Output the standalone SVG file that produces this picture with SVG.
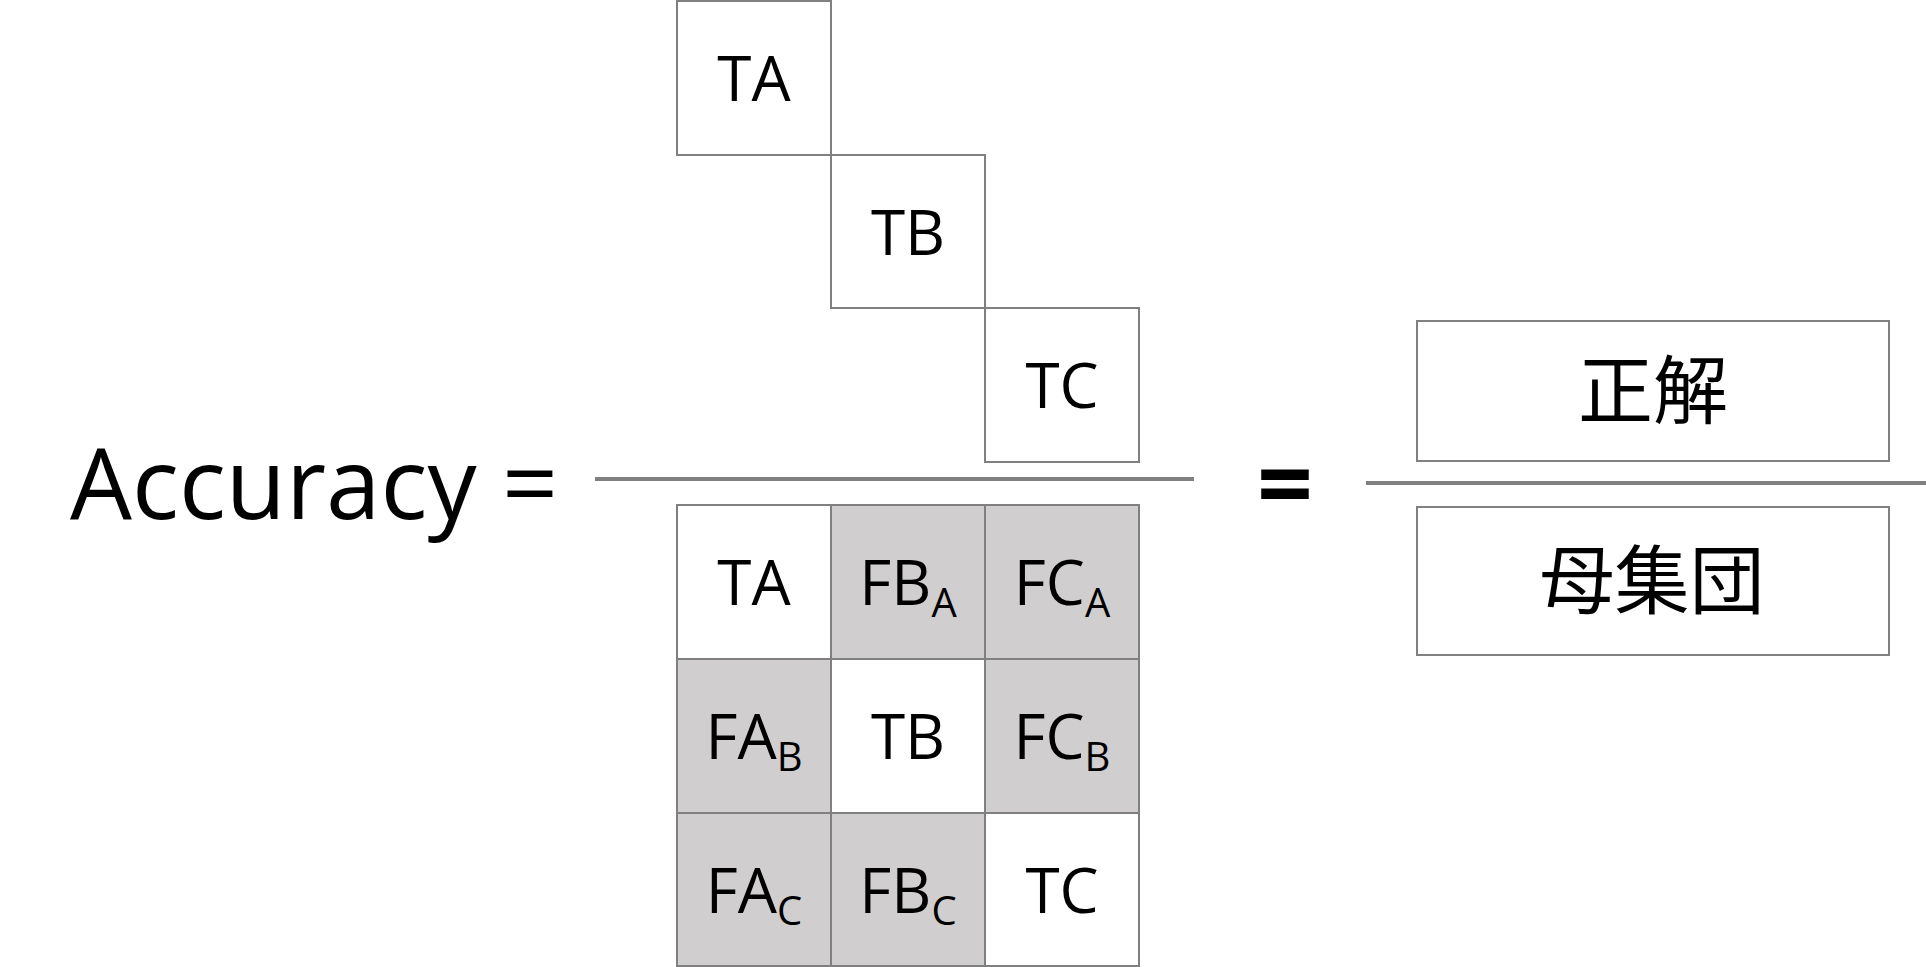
<svg xmlns="http://www.w3.org/2000/svg" width="1926" height="967" viewBox="0 0 1926 967">
<style>
.cell{fill:#ffffff;stroke:#808080;stroke-width:2}
.g{fill:#d0cece}
.t{font-family:"Open Sans","Noto Sans",sans-serif;font-size:62px;fill:#000;text-anchor:middle}
.sub{font-size:40px}
.big{font-family:"Open Sans","Noto Sans",sans-serif;font-size:98px;fill:#000}
.jp{font-family:"Noto Sans CJK JP","Noto Sans",sans-serif;font-size:75px;fill:#000;text-anchor:middle}
.div{stroke:#808080;stroke-width:4;fill:none}
</style>
<rect width="1926" height="967" fill="#ffffff"/>
<g id="label-accuracy"><text class="big" x="70" y="519">Accuracy =</text></g>
<g id="numerator">
<g id="num-TA"><rect class="cell" x="677" y="1" width="154" height="154"/><text class="t" x="754" y="101">TA</text></g>
<g id="num-TB"><rect class="cell" x="831" y="155" width="154" height="153"/><text class="t" x="908" y="255">TB</text></g>
<g id="num-TC"><rect class="cell" x="985" y="308" width="154" height="154"/><text class="t" x="1062" y="408">TC</text></g>
</g>
<g id="connectors">
<line class="div" x1="595" y1="479" x2="1194" y2="479"/>
<line class="div" x1="1366" y1="483" x2="1926" y2="483"/>
</g>
<g id="denominator">
<g id="den-TA"><rect class="cell" x="677" y="505" width="154" height="154"/><text class="t" x="754" y="605">TA</text></g>
<g id="den-FBA"><rect class="cell g" x="831" y="505" width="154" height="154"/><text class="t" x="908" y="605">FB<tspan class="sub" dy="12">A</tspan></text></g>
<g id="den-FCA"><rect class="cell g" x="985" y="505" width="154" height="154"/><text class="t" x="1062" y="605">FC<tspan class="sub" dy="12">A</tspan></text></g>
<g id="den-FAB"><rect class="cell g" x="677" y="659" width="154" height="154"/><text class="t" x="754" y="759">FA<tspan class="sub" dy="12">B</tspan></text></g>
<g id="den-TB"><rect class="cell" x="831" y="659" width="154" height="154"/><text class="t" x="908" y="759">TB</text></g>
<g id="den-FCB"><rect class="cell g" x="985" y="659" width="154" height="154"/><text class="t" x="1062" y="759">FC<tspan class="sub" dy="12">B</tspan></text></g>
<g id="den-FAC"><rect class="cell g" x="677" y="813" width="154" height="153"/><text class="t" x="754" y="913">FA<tspan class="sub" dy="12">C</tspan></text></g>
<g id="den-FBC"><rect class="cell g" x="831" y="813" width="154" height="153"/><text class="t" x="908" y="913">FB<tspan class="sub" dy="12">C</tspan></text></g>
<g id="den-TC"><rect class="cell" x="985" y="813" width="154" height="153"/><text class="t" x="1062" y="913">TC</text></g>
</g>
<g id="equals2"><text class="big" x="1285" y="519" font-weight="bold" text-anchor="middle">=</text></g>
<g id="box-correct"><rect class="cell" x="1417" y="321" width="472" height="140"/><text class="jp" x="1653" y="418">正解</text></g>
<g id="box-population"><rect class="cell" x="1417" y="507" width="472" height="148"/><text class="jp" x="1652" y="608">母集団</text></g>
</svg>
